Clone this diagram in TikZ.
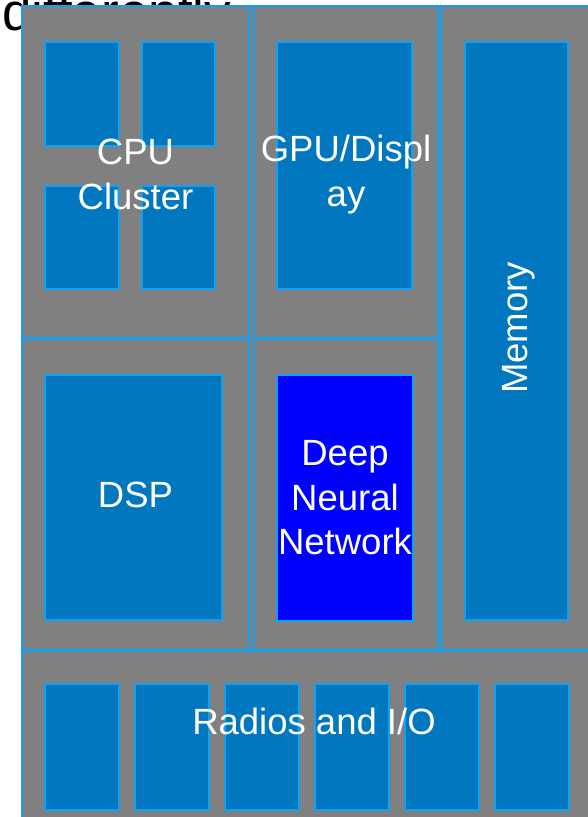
\documentclass[tikz,border=0pt]{standalone}
\usepackage{fontspec}
\setmainfont{Liberation Sans}
\definecolor{chipgrey}{HTML}{808080}
\definecolor{edgeblue}{HTML}{14A0F0}
\definecolor{cellblue}{HTML}{0077BE}
\definecolor{nnblue}{HTML}{0000FF}
\begin{document}
\begin{tikzpicture}[x=1pt,y=-1pt,
  blk/.style={draw=edgeblue, line width=2pt, fill=chipgrey, anchor=north west,
              inner sep=0pt, outer sep=0pt},
  cell/.style={draw=edgeblue, line width=1.5pt, fill=cellblue, anchor=north west,
               inner sep=0pt, outer sep=0pt, minimum width=#1},
  cell/.default=74pt,
  lbl/.style={text=white, font=\fontsize{36.5}{44.5}\selectfont, align=center, inner sep=0pt}]
\useasboundingbox (0,0) rectangle (588,817);
\clip (0,0) rectangle (588,817);

% caption text partly hidden behind the chip
\node[anchor=base west, inner sep=0pt, font=\fontsize{53}{60}\selectfont] (caption) at (2,30) {differently};

% chip outline and functional blocks
\node[blk, minimum width=600pt, minimum height=830pt] (chip) at (22,6) {};
\node[blk, minimum width=227pt, minimum height=332pt] (cpu) at (22,6) {};
\node[blk, minimum width=184pt, minimum height=332pt] (gpu) at (254,6) {};
\node[blk, minimum width=155pt, minimum height=644pt] (mem) at (441,6) {};
\node[blk, minimum width=227pt, minimum height=311pt] (dsp) at (22,339) {};
\node[blk, minimum width=184pt, minimum height=311pt] (nnblk) at (254,339) {};
\node[blk, minimum width=600pt, minimum height=200pt] (radio) at (22,651) {};

% CPU cores
\node[cell=74pt, minimum height=104pt] (core1) at (45,42) {};
\node[cell=73pt, minimum height=104pt] (core2) at (142,42) {};
\node[cell=74pt, minimum height=103pt] (core3) at (45,186) {};
\node[cell=73pt, minimum height=103pt] (core4) at (142,186) {};

% GPU, memory, DSP and neural network cells
\node[cell=135pt, minimum height=247pt] (gpucell) at (277,42) {};
\node[cell=103pt, minimum height=578pt] (memcell) at (465,42) {};
\node[cell=177pt, minimum height=245pt] (dspcell) at (45,375) {};
\node[cell=136pt, minimum height=246pt, fill=nnblue] (nncell) at (277,375) {};

% radio / I/O cells
\foreach \i/\xx in {1/45,2/135,3/225,4/315,5/405,6/495}
  \node[cell=74pt, minimum height=126pt] (io\i) at (\xx,684) {};

% labels
\node[lbl] (cpulbl) at ([yshift=-2.5pt]cpu.center) {CPU\\Cluster};
\node[lbl] (gpulbl) at ([yshift=-2.5pt]gpu.center) {GPU/Displ\\ay};
\node[lbl, rotate=90] (memlbl) at (mem.center) {Memory};
\node[lbl] (dsplbl) at (dsp.center) {DSP};
\node[lbl] (nnlbl) at (nncell.center) {Deep\\Neural\\Network};
\node[lbl] (radiolbl) at (314,721) {Radios and I/O};
\end{tikzpicture}
\end{document}
